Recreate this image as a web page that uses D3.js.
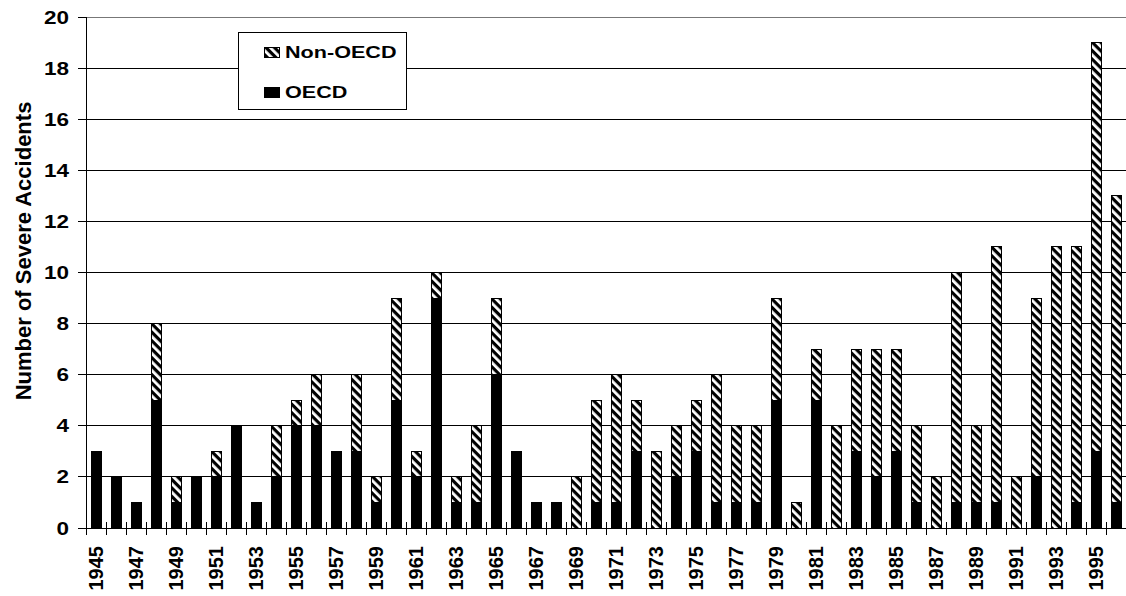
<!DOCTYPE html>
<html>
<head>
<meta charset="utf-8">
<script src="https://cdn.jsdelivr.net/npm/d3@7"></script>
<style>
  html, body { margin: 0; padding: 0; background: #fff; }
  svg { display: block; }
  text { font-family: "Liberation Sans", Arial, sans-serif; font-weight: bold; fill: #000; }
</style>
</head>
<body>
<svg id="chart" width="1126" height="596"></svg>
<script>
const years = d3.range(1945, 1997);
const oecd    = [3,2,1,5,1,2,2,4,1,2,4,4,3,3,1,5,2,9,1,1,6,3,1,1,0,1,1,3,0,2,3,1,1,1,5,0,5,0,3,2,3,1,0,1,1,1,0,2,0,1,3,1];
const nonOecd = [0,0,0,3,1,0,1,0,0,2,1,2,0,3,1,4,1,1,1,3,3,0,0,0,2,4,5,2,3,2,2,5,3,3,4,1,2,4,4,5,4,3,2,9,3,10,2,7,11,10,16,12];
const yTicks = d3.range(0, 21, 2);
const xLabelYears = years.filter(v => (v - 1945) % 2 === 0);
const seriesNames = ["Non-OECD", "OECD"];

const svg = d3.select("#chart");
const mLeft = 86, mRight = 1126, mTop = 17, mBottom = 528;

const defs = svg.append("defs");
const pat = defs.append("pattern")
  .attr("id", "hatch")
  .attr("patternUnits", "userSpaceOnUse")
  .attr("width", 6).attr("height", 6)
  .attr("patternTransform", "rotate(45)");
pat.append("rect").attr("width", 6).attr("height", 6).attr("fill", "#fff");
pat.append("rect").attr("width", 6).attr("height", 3.2).attr("fill", "#000");

const x = d3.scaleBand().domain(years).range([mLeft, mRight]).paddingInner(0.5).paddingOuter(0.25);
const y = d3.scaleLinear().domain([0, 20]).range([mBottom, mTop]);

// gridlines
svg.append("g").selectAll("line").data(yTicks.filter(d => d > 0)).join("line")
  .attr("x1", mLeft).attr("x2", mRight)
  .attr("y1", d => y(d)).attr("y2", d => y(d))
  .attr("stroke", d => d === 20 ? "#777" : "#000").attr("stroke-width", 1)
  .attr("shape-rendering", "crispEdges");

// bars
const data = years.map((yr, i) => ({ yr, o: oecd[i], n: nonOecd[i] }));
const bars = svg.append("g");
bars.selectAll("rect.o").data(data.filter(d => d.o > 0)).join("rect")
  .attr("class", "o")
  .attr("x", d => x(d.yr)).attr("width", x.bandwidth())
  .attr("y", d => y(d.o)).attr("height", d => y(0) - y(d.o))
  .attr("fill", "#000").attr("stroke", "#000").attr("stroke-width", 1)
  .attr("shape-rendering", "crispEdges");
bars.selectAll("rect.n").data(data.filter(d => d.n > 0)).join("rect")
  .attr("class", "n")
  .attr("x", d => x(d.yr)).attr("width", x.bandwidth())
  .attr("y", d => y(d.o + d.n)).attr("height", d => y(d.o) - y(d.o + d.n))
  .attr("fill", "url(#hatch)").attr("stroke", "#000").attr("stroke-width", 1)
  .attr("shape-rendering", "crispEdges");

// y axis
svg.append("line").attr("x1", mLeft).attr("x2", mLeft).attr("y1", mTop).attr("y2", mBottom)
  .attr("stroke", "#000").attr("shape-rendering", "crispEdges");
svg.append("g").selectAll("line").data(yTicks).join("line")
  .attr("x1", mLeft - 8).attr("x2", mLeft)
  .attr("y1", d => y(d)).attr("y2", d => y(d))
  .attr("stroke", "#000").attr("shape-rendering", "crispEdges");
svg.append("g").selectAll("text").data(yTicks).join("text")
  .attr("transform", d => `translate(69,${y(d) + 6.5}) scale(1.25,1)`)
  .attr("text-anchor", "end")
  .attr("font-size", 18)
  .text(d => d);

// x axis
svg.append("line").attr("x1", mLeft).attr("x2", mRight).attr("y1", mBottom).attr("y2", mBottom)
  .attr("stroke", "#000").attr("shape-rendering", "crispEdges");
const boundaries = years.map(yr => x(yr) - x.bandwidth() / 2);
svg.append("g").selectAll("line").data(boundaries).join("line")
  .attr("x1", d => d).attr("x2", d => d)
  .attr("y1", mBottom - 6).attr("y2", mBottom + 7)
  .attr("stroke", "#000").attr("shape-rendering", "crispEdges");
svg.append("g").selectAll("text").data(xLabelYears).join("text")
  .attr("transform", d => `translate(${x(d) + x.bandwidth() / 2 + 7},546) rotate(-90)`)
  .attr("text-anchor", "end")
  .attr("font-size", 20)
  .text(d => d);

// y title
svg.append("text")
  .attr("transform", "translate(31,251) rotate(-90)")
  .attr("text-anchor", "middle")
  .attr("font-size", 22)
  .text("Number of Severe Accidents");

// legend
const lg = svg.append("g");
lg.append("rect").attr("x", 238.5).attr("y", 32.5).attr("width", 168).attr("height", 77)
  .attr("fill", "#fff").attr("stroke", "#000").attr("stroke-width", 1);
const rows = [{ name: seriesNames[0], fill: "url(#hatch)", yy: 47 }, { name: seriesNames[1], fill: "#000", yy: 87 }];
rows.forEach(r => {
  lg.append("rect").attr("x", 264.5).attr("y", r.yy + 0.5).attr("width", 15).attr("height", 10)
    .attr("fill", r.fill).attr("stroke", "#000").attr("stroke-width", 1);
  lg.append("text")
    .attr("transform", `translate(285,${r.yy + 10.5}) scale(1.27,1)`)
    .attr("font-size", 17)
    .text(r.name);
});
</script>
</body>
</html>
